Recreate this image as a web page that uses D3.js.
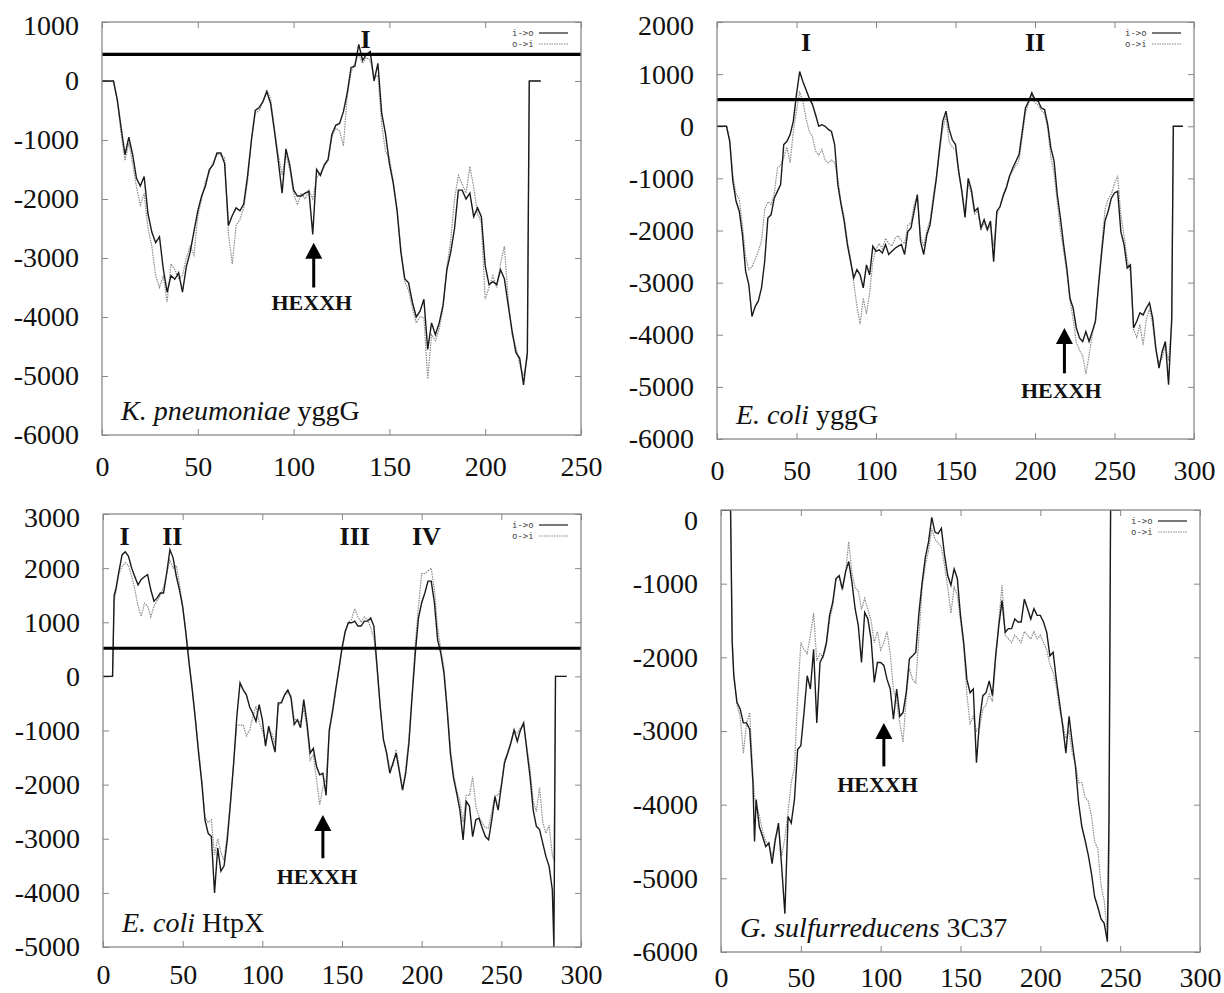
<!DOCTYPE html>
<html>
<head>
<meta charset="utf-8">
<script src="https://cdn.jsdelivr.net/npm/d3@7"></script>
<style>
body { margin: 0; background: #fff; }
svg { display: block; }
</style>
</head>
<body>
<svg id="chart" width="1224" height="993"></svg>
<script>
// residue positions and i->o / o->i profile values

// K. pneumoniae yggG
var kpX = [0,2,4,6,8,10,12,14,16,18,20,22,24,26,28,30,32,34,36,38,40,42,44,46,48,50,52,54,56,58,
  60,62,64,66,68,70,72,74,76,78,80,82,84,86,88,90,92,94,96,98,100,102,104,106,108,110,112,114,116,118,
  120,122,124,126,128,130,132,134,136,138,140,142,144,146,148,150,152,154,156,158,160,162,164,166,168,170,172,174,176,178,
  180,182,184,186,188,190,192,194,196,198,200,202,204,206,208,210,212,214,216,218,220,222,223,229];
var kpIn = [0,0,0,0,-320,-800,-1250,-950,-1250,-1650,
  -1780,-1620,-2250,-2560,-2740,-2640,-3190,-3580,-3300,-3360,
  -3250,-3580,-3150,-2900,-2550,-2200,-1950,-1780,-1500,-1420,
  -1220,-1220,-1400,-2450,-2280,-2150,-2200,-2080,-1600,-1000,
  -500,-450,-350,-180,-380,-850,-1350,-1900,-1150,-1420,
  -1850,-1950,-1950,-1900,-1870,-2600,-1500,-1600,-1420,-1330,
  -900,-750,-720,-520,-200,230,250,620,350,450,
  500,0,300,-550,-900,-1400,-1730,-2200,-2900,-3350,
  -3420,-3750,-4000,-3900,-3700,-4550,-4100,-4300,-4100,-3800,
  -3200,-2900,-2500,-1850,-1850,-2000,-1900,-2300,-2150,-2300,
  -3130,-3450,-3400,-3450,-3200,-3350,-3800,-4230,-4600,-4700,
  -5150,-4600,0,0];
var kpOut = [0,0,0,0,-350,-900,-1350,-1050,-1400,-1800,
  -2100,-1900,-2500,-2800,-3300,-3500,-3300,-3750,-3100,-3200,
  -3350,-3300,-3000,-2800,-2950,-2300,-2000,-1700,-1550,-1380,
  -1250,-1250,-1300,-2600,-3100,-2450,-2350,-2150,-1700,-1000,
  -550,-500,-350,-150,-300,-800,-1250,-1600,-1250,-1500,
  -1900,-2100,-1900,-2000,-1850,-2000,-1650,-1550,-1450,-1350,
  -950,-800,-850,-1100,-250,150,300,450,300,400,
  350,50,100,-750,-1200,-1300,-1700,-2150,-2850,-3400,
  -3550,-3850,-4100,-4000,-4000,-5050,-4300,-4400,-4200,-3850,
  -3150,-2700,-2000,-1600,-1750,-1900,-1450,-1800,-2250,-2400,
  -3700,-3500,-3300,-3500,-3100,-2800,-3700,-4300,-4500,-4800,
  -5000,-4700,0,0];

// E. coli yggG
var ecX = [0,2,4,6,8,10,12,14,16,18,20,22,24,26,28,30,32,34,36,38,40,42,44,46,48,50,52,54,56,58,
  60,62,64,66,68,70,72,74,76,78,80,82,84,86,88,90,92,94,96,98,100,102,104,106,108,110,112,114,116,118,
  120,122,124,126,128,130,132,134,136,138,140,142,144,146,148,150,152,154,156,158,160,162,164,166,168,170,172,174,176,178,
  180,182,184,186,188,190,192,194,196,198,200,202,204,206,208,210,212,214,216,218,220,222,224,226,228,230,232,234,236,238,
  240,242,244,246,248,250,252,254,256,258,260,262,264,266,268,270,272,274,276,278,280,282,284,286,287,293];
var ecIn = [0,0,0,0,-290,-1060,-1440,-1630,-2080,-2780,
  -3040,-3650,-3460,-3350,-3100,-2590,-1760,-1700,-1380,-1250,
  -1120,-350,-290,-160,100,610,1050,860,700,540,
  420,220,0,30,0,-60,-100,-350,-1120,-1500,
  -1820,-2270,-2590,-2910,-2750,-2850,-3100,-2660,-2850,-2300,
  -2400,-2370,-2430,-2270,-2460,-2400,-2340,-2300,-2270,-2460,
  -2020,-1950,-1630,-1310,-2210,-2460,-2080,-1890,-1440,-990,
  -420,100,290,-60,-260,-350,-860,-1250,-1750,-1000,
  -1220,-1630,-1570,-1950,-1790,-1980,-1820,-2600,-1630,-1540,
  -1340,-1180,-960,-800,-670,-540,-100,350,480,640,
  510,480,350,320,30,-420,-670,-1310,-1760,-2270,
  -2720,-3300,-3490,-3870,-4060,-4130,-3940,-4130,-3940,-3740,
  -3040,-2400,-1820,-1630,-1380,-1280,-1250,-2020,-2270,-2720,
  -2660,-3870,-3740,-3580,-3620,-3490,-3390,-3680,-4260,-4640,
  -4320,-4130,-4960,-3680,0,0];
var ecOut = [0,0,0,0,-250,-950,-1300,-1400,-1900,-2500,
  -2750,-2700,-2550,-2400,-2200,-1600,-1450,-1500,-1300,-800,
  -750,-600,-400,-700,-100,300,650,480,150,-100,
  -200,-480,-550,-450,-650,-700,-650,-700,-1000,-1450,
  -1750,-2200,-2550,-3000,-3450,-3800,-3300,-3600,-3200,-2600,
  -2350,-2250,-2350,-2150,-2250,-2300,-2150,-2100,-2200,-2250,
  -1900,-1850,-1500,-1350,-2100,-2300,-2000,-1800,-1350,-950,
  -500,-50,200,-300,-400,-450,-900,-1250,-1650,-1100,
  -1300,-1700,-1600,-2000,-1850,-2000,-1900,-2300,-1700,-1550,
  -1300,-1150,-950,-850,-750,-650,-200,250,450,600,
  450,400,300,250,-50,-600,-900,-1450,-2000,-2400,
  -2800,-3350,-3700,-4150,-4300,-4400,-4750,-4400,-4000,-3750,
  -3000,-2300,-1600,-1400,-1300,-1100,-950,-1700,-2100,-2550,
  -2800,-3900,-4050,-3800,-4200,-3700,-3500,-3800,-4300,-4550,
  -4450,-4200,-4500,-3800,0,0];

// E. coli HtpX
var htX = [0,2,4,6,7,8,10,12,14,16,18,20,22,24,26,28,30,32,34,36,38,40,42,44,46,48,50,52,54,56,58,
  60,62,64,66,68,70,72,74,76,78,80,82,84,86,88,90,92,94,96,98,100,102,104,106,108,110,112,114,116,118,
  120,122,124,126,128,130,132,134,136,138,140,142,144,146,148,150,152,154,156,158,160,162,164,166,168,170,172,174,176,178,
  180,182,184,186,188,190,192,194,196,198,200,202,204,206,208,210,212,214,216,218,220,222,224,226,228,230,232,234,236,238,
  240,242,244,246,248,250,252,254,256,258,260,262,264,266,268,270,272,274,276,278,280,282,283,284,291];
var htIn = [0,0,0,0,1500,
  1600,1940,2250,2300,2220,2000,1840,1690,1790,1840,
  1880,1600,1390,1450,1540,1540,1910,2340,2190,1850,
  1600,1290,800,250,-250,-800,-1420,-1970,-2650,-2900,
  -2960,-4000,-3170,-3600,-3500,-3020,-2340,-1600,-740,-120,
  -250,-340,-560,-680,-830,-520,-800,-1290,-920,-1170,
  -1400,-490,-490,-340,-250,-400,-890,-800,-950,-430,
  -860,-1420,-1330,-1660,-1820,-1790,-2200,-990,-650,-250,
  120,520,830,990,990,1020,930,930,1020,1020,
  1080,930,180,-560,-1170,-1420,-1790,-1600,-1420,-1760,
  -2100,-1790,-1230,-370,430,1080,1360,1540,1760,1760,
  1360,680,430,60,-620,-1420,-1880,-2160,-2470,-3020,
  -2310,-2400,-2960,-2650,-2620,-2800,-2960,-3020,-2650,-2220,
  -2470,-2030,-1600,-1420,-1230,-990,-1200,-990,-860,-1360,
  -1850,-2470,-2770,-2830,-3080,-3330,-3510,-3940,
  -5000,0,0];
var htOut = [0,0,0,0,1400,
  1550,1900,2030,2100,2050,1850,1600,1300,1110,1350,
  1300,1100,1300,1400,1500,1650,1900,2150,2000,2050,
  1700,1300,850,300,-200,-800,-1350,-1900,-2600,-2700,
  -2650,-3300,-3000,-3250,-3400,-2900,-2300,-1600,-900,-900,
  -900,-1100,-1000,-750,-550,-850,-1000,-1200,-1000,-1050,
  -1250,-550,-450,-350,-300,-350,-800,-800,-850,-600,
  -950,-1550,-1450,-1900,-2370,-2050,-1900,-1050,-700,-300,
  150,500,800,1000,1050,1250,1100,1000,1100,1050,
  900,700,150,-600,-1150,-1400,-1700,-1650,-1350,-1700,
  -2100,-1700,-1150,-300,600,1300,1900,1900,1950,2000,
  1600,900,500,150,-550,-1300,-1800,-2100,-2300,-2700,
  -2200,-2200,-1850,-2400,-2600,-2700,-2800,-2800,-2500,-2200,
  -2200,-2000,-1550,-1400,-1200,-1000,-1050,-950,-900,-1300,
  -1700,-2300,-2500,-2050,-2700,-2900,-2750,-3300,
  -3400,0,0];

// G. sulfurreducens 3C37
var gsX = [0,2,4,6,7,8,10,12,14,16,18,20,21,22,24,26,28,30,32,34,36,38,40,42,44,46,48,50,52,54,56,58,
  60,62,64,66,68,70,72,74,76,78,80,82,84,86,88,90,92,94,96,98,100,102,104,106,108,110,112,114,116,118,
  120,122,124,126,128,130,132,134,136,138,140,142,144,146,148,150,152,154,156,158,160,162,164,166,168,170,172,174,176,178,
  180,182,184,186,188,190,192,194,196,198,200,202,204,206,208,210,212,214,216,218,220,222,224,226,228,230,232,234,236,238,
  240,242,243,244,250];
var gsIn = [0,0,0,0,-1800,-2250,-2610,-2700,-2890,-2890,-2980,-3700,-4500,
  -3930,-4300,-4430,-4570,-4520,-4800,-4480,-4250,-4840,-5480,
  -4160,-4250,-3930,-3250,-3200,-2750,-2250,-2430,-1890,-2890,
  -2070,-1980,-1800,-1430,-1250,-930,-890,-1070,-840,-700,
  -980,-1340,-1570,-2070,-1390,-1480,-1750,-2340,-2070,-2070,
  -2110,-2300,-2430,-2840,-2430,-2800,-2750,-2480,-2020,-1980,
  -1930,-1390,-980,-640,-430,-100,-300,-320,-250,-610,
  -890,-1020,-800,-930,-1430,-1800,-2300,-2480,-2430,-3430,
  -2840,-2520,-2480,-2320,-2520,-1980,-1570,-1230,-1660,-1610,
  -1610,-1480,-1520,-1520,-1210,-1340,-1480,-1340,-1430,-1430,
  -1520,-1660,-1980,-1930,-2300,-2610,-2930,-3300,-2800,-3160,
  -3480,-3980,-4300,-4480,-4680,-4930,-5250,-5390,-5550,-5610,
  -5860,-4200,0,0];
var gsOut = [0,0,0,0,-1700,-2200,-2650,-2800,-3300,-2900,-2750,-3600,-3900,
  -4000,-4150,-4350,-4500,-4550,-4700,-4450,-4300,-4700,-4450,
  -4100,-3700,-3500,-2550,-1800,-1900,-1950,-1700,-1400,-2050,
  -1950,-2000,-1850,-1500,-1300,-950,-900,-1100,-850,-430,
  -850,-1050,-1100,-1350,-1200,-1350,-1500,-1800,-1650,-1900,
  -1800,-1650,-1950,-2450,-2600,-2900,-3150,-2550,-2150,-2300,
  -2350,-1700,-1050,-750,-550,-250,-400,-450,-500,-750,
  -1050,-1400,-1050,-1150,-1500,-1850,-2500,-2900,-2800,-3000,
  -2950,-2700,-2650,-2500,-2600,-2050,-1500,-1020,-1700,-1750,
  -1800,-1700,-1750,-1800,-1650,-1700,-1750,-1650,-1750,-1700,
  -1800,-1900,-2100,-2200,-2400,-2700,-2900,-3100,-3000,-3300,
  -3450,-3700,-3700,-3900,-3950,-4150,-4500,-4600,-5100,-5300,
  -5750,-5000,0,0];

// annotations
var hexX = [110.5, 218.5, 138, 102];
var hexTip = [-2740, -3870, -2560, -2890];
var hexTail = [-3500, -4740, -3360, -3480];
var hexTextX = [109.5, 216.5, 134.3, 98];
var hexTextY = [-3750, -5060, -3700, -3730];

var romanText = [["I"], ["I", "II"], ["I", "II", "III", "IV"], []];
var romanX = [[137.6], [56, 200], [13.5, 43.5, 158, 203], []];
var romanY = [567, 1453, 2434, 0];

var speciesItalic = ["K. pneumoniae", "E. coli", "E. coli", "G. sulfurreducens"];
var speciesPlain = [" yggG", " yggG", " HtpX", " 3C37"];

// horizontal cut-off line per panel (none in the last one)
var thresholds = [450, 510, 520, null];

var panels = [
  {xs: kpX, vin: kpIn, vout: kpOut, l: 102, t: 22, r: 581, b: 435, xMax: 250, yMin: -6000, yMax: 1000, pad: 21},
  {xs: ecX, vin: ecIn, vout: ecOut, l: 717, t: 22, r: 1194, b: 439, xMax: 300, yMin: -6000, yMax: 2000, pad: 21},
  {xs: htX, vin: htIn, vout: htOut, l: 103, t: 514, r: 581, b: 947, xMax: 300, yMin: -5000, yMax: 3000, pad: 17},
  {xs: gsX, vin: gsIn, vout: gsOut, l: 721, t: 510, r: 1200, b: 952, xMax: 300, yMin: -6000, yMax: 0, pad: 15}
];

var serif = "'Liberation Serif', 'Times New Roman', Times, serif";
var svg = d3.select("#chart");
svg.append("rect").attr("width", 1224).attr("height", 993).attr("fill", "#fff");

panels.forEach(function(p, i) {
  if (p.xs.length !== p.vin.length || p.xs.length !== p.vout.length)
    console.warn("length mismatch in panel", i, p.xs.length, p.vin.length, p.vout.length);

  var x = d3.scaleLinear().domain([0, p.xMax]).range([p.l, p.r]);
  var y = d3.scaleLinear().domain([p.yMin, p.yMax]).range([p.b, p.t]);
  var yTicks = d3.range(p.yMin, p.yMax + 1, 1000);
  var xTicks = d3.range(0, p.xMax + 1, 50);
  var g = svg.append("g");

  // ticks, gnuplot style: inward on all four sides
  var left = g.append("g").attr("transform", "translate(" + p.l + ",0)")
    .call(d3.axisLeft(y).tickValues(yTicks).tickSize(-6).tickPadding(23).tickFormat(function(d) { return String(d); }));
  var right = g.append("g").attr("transform", "translate(" + p.r + ",0)")
    .call(d3.axisRight(y).tickValues(yTicks).tickSize(-6).tickFormat(""));
  var bottom = g.append("g").attr("transform", "translate(0," + p.b + ")")
    .call(d3.axisBottom(x).tickValues(xTicks).tickSize(-6).tickPadding(p.pad).tickFormat(function(d) { return String(d); }));
  var top = g.append("g").attr("transform", "translate(0," + p.t + ")")
    .call(d3.axisTop(x).tickValues(xTicks).tickSize(-6).tickFormat(""));

  [left, right, bottom, top].forEach(function(a) {
    a.select(".domain").remove();
    a.selectAll(".tick line").attr("stroke", "#888");
    a.attr("font-family", serif).attr("font-size", 28);
    a.selectAll(".tick text").attr("fill", "#111");
  });
  left.selectAll(".tick text").filter(function(d) { return d === p.yMax; }).attr("dy", i === 3 ? "0.7em" : "0.45em");

  // profiles
  var cid = "clip" + i;
  g.append("clipPath").attr("id", cid).append("rect")
    .attr("x", p.l).attr("y", p.t).attr("width", p.r - p.l).attr("height", p.b - p.t);
  var line = d3.line().x(function(d) { return x(d[0]); }).y(function(d) { return y(d[1]); });
  var plot = g.append("g").attr("clip-path", "url(#" + cid + ")");
  plot.append("path").datum(d3.zip(p.xs, p.vout)).attr("d", line)
    .attr("fill", "none").attr("stroke", "#8c8c8c").attr("stroke-width", 1.2).attr("stroke-dasharray", "1.5,1");
  plot.append("path").datum(d3.zip(p.xs, p.vin)).attr("d", line)
    .attr("fill", "none").attr("stroke", "#1a1a1a").attr("stroke-width", 1.4);

  if (thresholds[i] !== null) {
    g.append("line").attr("x1", p.l).attr("x2", p.r).attr("y1", y(thresholds[i])).attr("y2", y(thresholds[i]))
      .attr("stroke", "#000").attr("stroke-width", 3.2);
  }

  g.append("rect").attr("x", p.l).attr("y", p.t).attr("width", p.r - p.l).attr("height", p.b - p.t)
    .attr("fill", "none").attr("stroke", "#888").attr("stroke-width", 1.3);

  // legend
  var lg = g.append("g").attr("font-family", "'DejaVu Sans Mono', monospace").attr("font-size", 9).attr("fill", "#444");
  lg.append("text").attr("x", p.r - 69).attr("y", p.t + 14).text("i->o");
  lg.append("line").attr("x1", p.r - 42).attr("x2", p.r - 13).attr("y1", p.t + 11).attr("y2", p.t + 11)
    .attr("stroke", "#1e1e1e").attr("stroke-width", 1.2);
  lg.append("text").attr("x", p.r - 69).attr("y", p.t + 25).text("o->i");
  lg.append("line").attr("x1", p.r - 42).attr("x2", p.r - 13).attr("y1", p.t + 22).attr("y2", p.t + 22)
    .attr("stroke", "#8c8c8c").attr("stroke-width", 1.2).attr("stroke-dasharray", "1.5,1");

  // roman numerals
  romanText[i].forEach(function(t, k) {
    g.append("text").attr("x", x(romanX[i][k])).attr("y", y(romanY[i]))
      .attr("text-anchor", "middle").attr("font-family", serif).attr("font-weight", "bold")
      .attr("font-size", 26).attr("fill", "#111").text(t);
  });

  // HEXXH arrow
  var ax = x(hexX[i]), tipY = y(hexTip[i]), tailY = y(hexTail[i]);
  g.append("line").attr("x1", ax).attr("x2", ax).attr("y1", tipY + 12).attr("y2", tailY)
    .attr("stroke", "#000").attr("stroke-width", 3);
  g.append("path").attr("d", "M" + ax + "," + tipY + "L" + (ax - 8.5) + "," + (tipY + 16) + "L" + (ax + 8.5) + "," + (tipY + 16) + "Z")
    .attr("fill", "#000");
  g.append("text").attr("x", x(hexTextX[i])).attr("y", y(hexTextY[i])).attr("dy", "0.35em")
    .attr("text-anchor", "middle").attr("font-family", serif).attr("font-weight", "bold")
    .attr("font-size", 22).attr("fill", "#111").text("HEXXH");

  // species name
  var sp = g.append("text").attr("x", p.l + 19).attr("y", p.b - 15)
    .attr("font-family", serif).attr("font-size", 28).attr("fill", "#111").style("white-space", "pre");
  sp.append("tspan").attr("font-style", "italic").text(speciesItalic[i]);
  sp.append("tspan").text(speciesPlain[i]);
});
</script>
</body>
</html>
